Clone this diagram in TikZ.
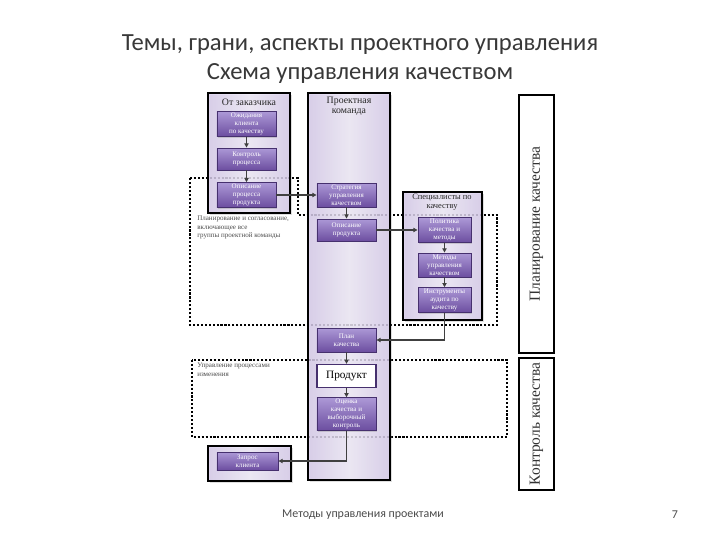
\documentclass[tikz,border=0pt]{standalone}
\usepackage{fontspec}
\setmainfont{Liberation Serif}
\newfontfamily\titlefont{Carlito}
\usetikzlibrary{arrows.meta,shadows,positioning}

\definecolor{boxtop}{RGB}{172,152,214}
\definecolor{boxbot}{RGB}{108,78,160}
\definecolor{boxline}{RGB}{70,48,110}
\definecolor{coledge}{RGB}{214,202,234}
\definecolor{colmid}{RGB}{238,233,247}

\tikzset{
  titletext/.style={font=\titlefont\fontsize{17.5}{20}\selectfont,text=black!78},
  foot/.style={font=\titlefont\fontsize{8.5}{10}\selectfont,text=black!70},
  zone/.style={draw=black,line width=1.5pt,dash pattern=on 1.5pt off 1.3pt},
  colbox/.style={draw=black,line width=1.3pt,left color=coledge,right color=coledge,middle color=colmid,fill opacity=0.82,drop shadow={opacity=0.25,shadow xshift=1.5pt,shadow yshift=-1.5pt}},
  head/.style={align=center,inner sep=0pt,font=\fontsize{7}{7.5}\selectfont,text=black!85},
  pbox/.style={draw=boxline,line width=0.6pt,top color=boxtop,bottom color=boxbot,
    text=white,align=center,inner sep=1pt,font=\fontsize{5}{5.6}\selectfont,
    minimum width=1.475cm,minimum height=0.6cm,drop shadow={opacity=0.3,shadow xshift=1pt,shadow yshift=-1pt}},
  wbox/.style={draw=boxline,line width=0.8pt,fill=white,align=center,inner sep=1pt,
    font=\fontsize{8}{9}\selectfont,minimum width=1.475cm,minimum height=0.58cm},
  note/.style={anchor=north west,align=left,inner sep=0pt,font=\fontsize{5}{6}\selectfont,text=black!70},
  vbar/.style={draw=black,line width=1.5pt,fill=white,rotate=90,font=\fontsize{11}{12}\selectfont,
    minimum height=0.875cm,text=black!80},
  conn/.style={-{Triangle[length=3pt,width=3pt]},line width=1pt,draw=black!75}
}

\begin{document}
\begin{tikzpicture}[x=0.025cm,y=-0.025cm]
\useasboundingbox[fill=white] (0,0) rectangle (720,540);
\node[titletext] (t1) at (360,45) {Темы, грани, аспекты проектного управления};
\node[titletext] (t2) at (360,73) {Схема управления качеством};

\draw[zone] (190,178)--(298,178)--(298,215)--(497,215)--(497,325)--(190,325)--cycle;
\draw[zone] (192,360) rectangle (507,437);

\draw[colbox] (208,93) rectangle (290,213);
\draw[colbox] (308,93) rectangle (390,480);
\draw[colbox] (403,192) rectangle (482,320);
\draw[colbox] (208,446) rectangle (291,481);

\node[head] (h1) at (249,102) {От заказчика};
\node[head] (h2) at (349,106) {Проектная\\команда};
\node[head,font=\fontsize{6}{6.5}\selectfont] (h3) at (442,202) {Специалисты по\\качеству};

\node[pbox] (a1) at (246.5,124) {Ожидания\\клиента\\по качеству};
\node[pbox,minimum height=0.55cm] (a2) at (246.5,159) {Контроль\\процесса};
\node[pbox] (a3) at (246.5,195) {Описание\\процесса\\продукта};

\node[pbox] (b1) at (346.5,195) {Стратегия\\управления\\качеством};
\node[pbox,minimum height=0.55cm] (b2) at (346.5,230) {Описание\\продукта};
\node[pbox] (b3) at (346.5,340) {План\\качества};
\node[wbox] (b4) at (346.5,376) {Продукт};
\node[pbox,minimum height=0.7cm] (b5) at (346.5,414) {Оценка\\качества и\\выборочный\\контроль};

\node[pbox,minimum width=1.325cm,minimum height=0.55cm] (c1) at (444.5,230) {Политика\\качества и\\методы};
\node[pbox,minimum width=1.325cm] (c2) at (444.5,265) {Методы\\управления\\качеством};
\node[pbox,minimum width=1.325cm] (c3) at (444.5,300) {Инструменты\\аудита по\\качеству};

\node[pbox,minimum width=1.525cm,minimum height=0.45cm] (d) at (247.5,461) {Запрос\\клиента};

\node[note] (n1) at (197,216) {Планирование и согласование,\\включающее все\\группы проектной команды};
\node[note] (n2) at (197,363) {Управление процессами\\изменения};

\node[vbar,minimum width=6.45cm] (v1) at (536.5,224) {Планирование качества};
\node[vbar,minimum width=3.2cm] (v2) at (536.5,424) {Контроль качества};

\draw[conn] (a1)--(a2);
\draw[conn] (a2)--(a3);
\draw[conn] (a3)--(b1);
\draw[conn] (b1)--(b2);
\draw[conn] (b2)--(c1);
\draw[conn] (c1)--(c2);
\draw[conn] (c2)--(c3);
\draw[conn] (c3.south)|-(b3.east);
\draw[conn] (b3)--(b4);
\draw[conn] (b4)--(b5);
\draw[conn] (b5.south)|-(d.east);

\node[foot] (f1) at (363,515) {Методы управления проектами};
\node[foot] (f2) at (675,515) {7};
\end{tikzpicture}
\end{document}
